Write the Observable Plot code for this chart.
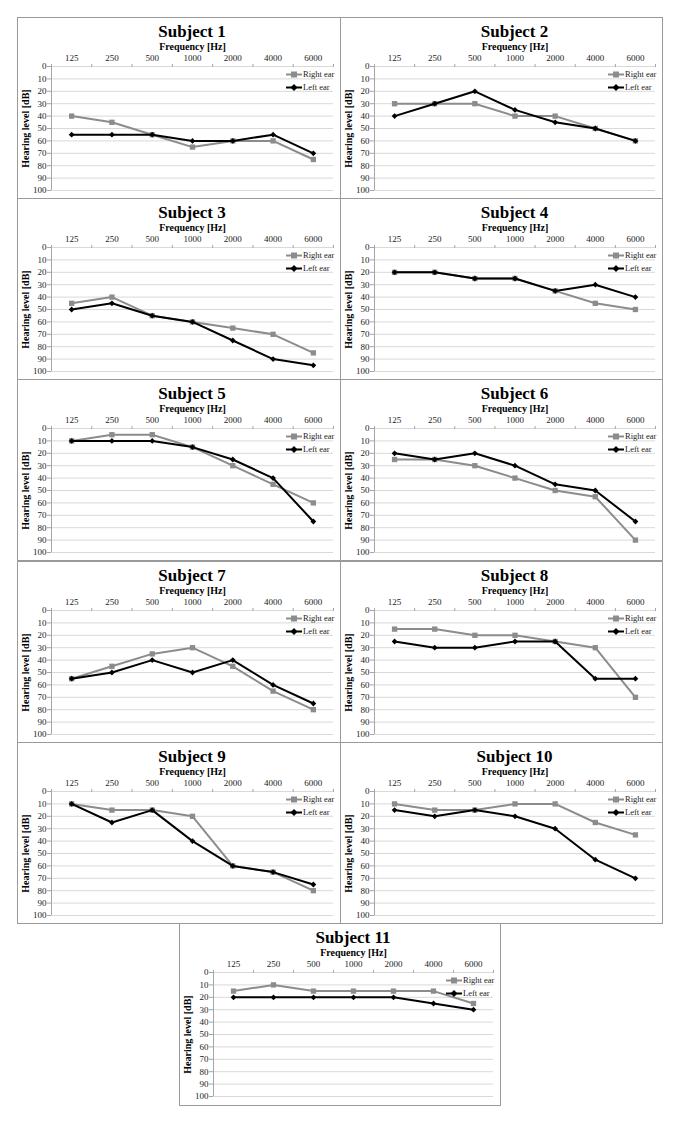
<!DOCTYPE html>
<html><head><meta charset="utf-8">
<script src="https://cdn.jsdelivr.net/npm/d3@7"></script>
<script src="https://cdn.jsdelivr.net/npm/@observablehq/plot@0.6"></script>
<style>
body{margin:0;background:#fff;}
#page{position:relative;width:685px;height:1128px;font-family:"Liberation Serif","Times New Roman",serif;color:#000;}
.panel{position:absolute;box-sizing:border-box;border:1px solid #9a9a9a;background:#fff;}
.title{position:absolute;top:4px;height:20px;text-align:center;font-weight:bold;font-size:17px;line-height:20px;white-space:nowrap;}
.plot{position:absolute;left:0;top:21px;}
.plot svg, .plot svg text{font-family:"Liberation Serif","Times New Roman",serif !important;}
.legend{position:absolute;font-size:8.5px;line-height:13px;color:#222;font-family:"Liberation Serif","Times New Roman",serif;}
.legend .row{display:flex;align-items:center;height:13px;white-space:nowrap;}
.legend svg{display:block;margin-right:1px;}
</style></head><body><div id="page"></div><script>
const frequencies = ["125","250","500","1000","2000","4000","6000"];
const subjectNames = ["Subject 1","Subject 2","Subject 3","Subject 4","Subject 5","Subject 6","Subject 7","Subject 8","Subject 9","Subject 10","Subject 11"];
const earNames = ["Right ear","Left ear"];
const yTicks = [0,10,20,30,40,50,60,70,80,90,100];

const s1Right = [40,45,55,65,60,60,75];
const s1Left  = [55,55,55,60,60,55,70];
const s2Right = [30,30,30,40,40,50,60];
const s2Left  = [40,30,20,35,45,50,60];
const s3Right = [45,40,55,60,65,70,85];
const s3Left  = [50,45,55,60,75,90,95];
const s4Right = [20,20,25,25,35,45,50];
const s4Left  = [20,20,25,25,35,30,40];
const s5Right = [10,5,5,15,30,45,60];
const s5Left  = [10,10,10,15,25,40,75];
const s6Right = [25,25,30,40,50,55,90];
const s6Left  = [20,25,20,30,45,50,75];
const s7Right = [55,45,35,30,45,65,80];
const s7Left  = [55,50,40,50,40,60,75];
const s8Right = [15,15,20,20,25,30,70];
const s8Left  = [25,30,30,25,25,55,55];
const s9Right = [10,15,15,20,60,65,80];
const s9Left  = [10,25,15,40,60,65,75];
const s10Right = [10,15,15,10,10,25,35];
const s10Left  = [15,20,15,20,30,55,70];
const s11Right = [15,10,15,15,15,15,25];
const s11Left  = [20,20,20,20,20,25,30];

const rightSeries = [s1Right,s2Right,s3Right,s4Right,s5Right,s6Right,s7Right,s8Right,s9Right,s10Right,s11Right];
const leftSeries  = [s1Left,s2Left,s3Left,s4Left,s5Left,s6Left,s7Left,s8Left,s9Left,s10Left,s11Left];

// layout
const rowTops = [17,198,379,561,742,923];
const GRAY = "#8c8c8c";
const SERIF = "Liberation Serif";
const M = {top:27, bottom:7, left:33, right:7};

function rows(vals){ return vals.map((v,j)=>({k:j+0.5, db:v})); }

function makePanel(i){
  let left, top, w, h;
  if (i < 10){ left = (i%2===0) ? 17 : 340; w = (i%2===0) ? 324 : 323; top = rowTops[Math.floor(i/2)]; h = 182; }
  else { left = 179; w = 322; top = rowTops[5]; h = 183; }
  const div = document.createElement("div");
  div.className = "panel";
  Object.assign(div.style, {left:left+"px", top:top+"px", width:w+"px", height:h+"px"});
  const t = document.createElement("div");
  t.className = "title"; t.textContent = subjectNames[i];
  Object.assign(t.style, {left:M.left+"px", width:(w-2-M.left-M.right)+"px"});
  div.appendChild(t);

  const R = rows(rightSeries[i]), L = rows(leftSeries[i]);
  const plot = Plot.plot({
    width: w-2, height: 158,
    marginTop: M.top, marginBottom: M.bottom, marginLeft: M.left, marginRight: M.right,
    style: `font-family:${SERIF},serif;font-size:9px;background:transparent;overflow:visible;color:#222;`,
    x: {domain:[0,7], axis:null},
    y: {domain:[0,100], reverse:true, axis:null},
    marks: [
      Plot.gridY(yTicks, {stroke:"#d9d9d9", strokeOpacity:1}),
      Plot.ruleX([0], {stroke:"#a6a6a6"}),
      Plot.axisY(yTicks, {anchor:"left", tickSize:4, tickPadding:1, stroke:"#a6a6a6", label:null, fill:"#222", fontFamily:SERIF, fontSize:9}),
      Plot.axisY([], {anchor:"left", label:"Hearing level [dB]", labelAnchor:"center", labelArrow:"none", fontWeight:"bold", fontSize:10, fill:"#000", fontFamily:SERIF}),
      Plot.axisX(d3.range(8), {anchor:"top", tickSize:3, tickFormat:()=>"", label:null, stroke:"#a6a6a6"}),
      Plot.axisX(frequencies.map((f,j)=>j+0.5), {anchor:"top", tickSize:0, tickPadding:6, tickFormat:d=>frequencies[Math.floor(d)], label:null, fill:"#222", fontFamily:SERIF, fontSize:9}),
      Plot.axisX([], {anchor:"top", label:"Frequency [Hz]", labelAnchor:"center", labelArrow:"none", fontWeight:"bold", fontSize:10, fill:"#000", fontFamily:SERIF}),
      Plot.line(R, {x:"k", y:"db", stroke:GRAY, strokeWidth:2}),
      Plot.dot(R, {x:"k", y:"db", symbol:"square", fill:GRAY, stroke:"none", r:3}),
      Plot.line(L, {x:"k", y:"db", stroke:"#000", strokeWidth:2}),
      Plot.dot(L, {x:"k", y:"db", symbol:"diamond2", fill:"#000", stroke:"none", r:2.6})
    ]
  });
  plot.setAttribute("font-family", SERIF + ", serif");
  const pw = document.createElement("div");
  pw.className = "plot"; pw.appendChild(plot);
  div.appendChild(pw);

  // legend
  const lg = document.createElement("div");
  lg.className = "legend";
  Object.assign(lg.style, {left:(w-56)+"px", top:"50px"});
  earNames.forEach((name, e)=>{
    const row = document.createElement("div"); row.className = "row";
    const col = e===0 ? GRAY : "#000";
    const marker = e===0
      ? `<rect x="5" y="1.5" width="6" height="6" fill="${col}"/>`
      : `<path d="M8 1 L11.5 4.5 L8 8 L4.5 4.5 Z" fill="${col}"/>`;
    row.innerHTML = `<svg width="16" height="9" viewBox="0 0 16 9"><line x1="0" y1="4.5" x2="16" y2="4.5" stroke="${col}" stroke-width="2"/>${marker}</svg><span>${name}</span>`;
    lg.appendChild(row);
  });
  div.appendChild(lg);
  document.getElementById("page").appendChild(div);
}
for (let i=0;i<11;i++) makePanel(i);
</script></body></html>
